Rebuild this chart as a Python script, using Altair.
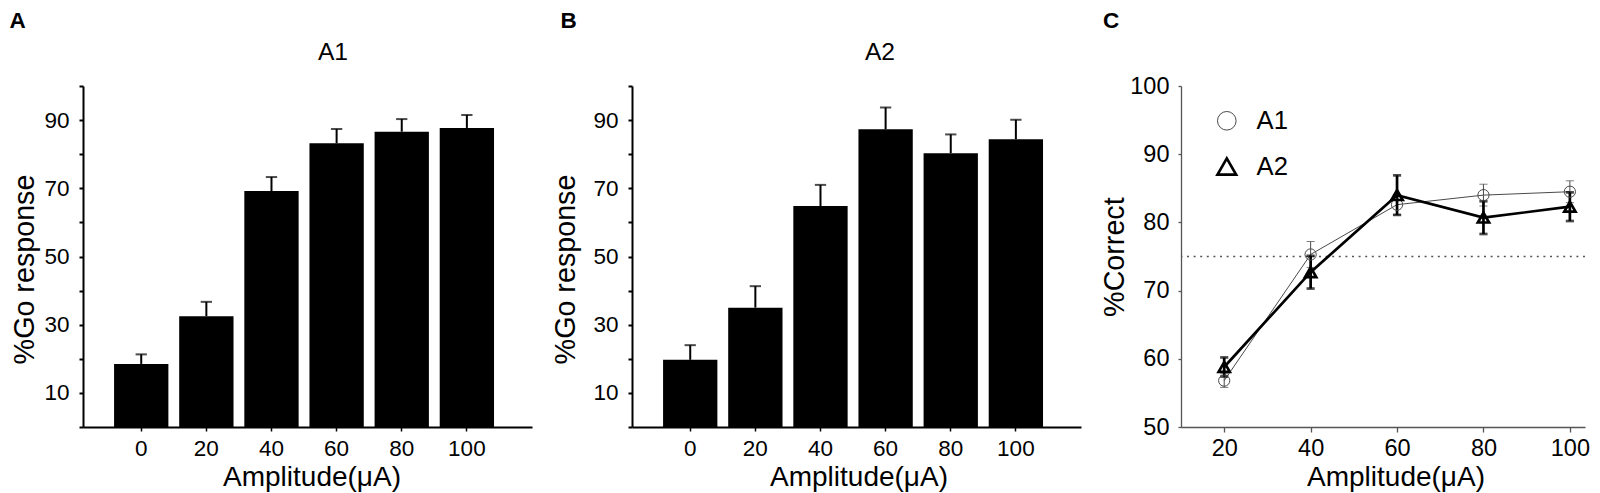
import altair as alt
import pandas as pd

FONT = "Liberation Sans"

# ---------------- data ----------------
amps = ["0", "20", "40", "60", "80", "100"]
a1_go_mean = [18.5, 32.5, 69.2, 83.2, 86.6, 87.7]
a1_go_sem = [2.8, 4.2, 4.1, 4.2, 3.7, 3.8]
a2_go_mean = [19.7, 35.0, 64.8, 87.3, 80.3, 84.4]
a2_go_sem = [4.3, 6.3, 6.2, 6.4, 5.5, 5.7]

series = ["A1", "A2"]
c_amps = [20, 40, 60, 80, 100]
a1_cor_mean = [56.8, 75.3, 82.6, 84.0, 84.5]
a1_cor_sem = [1.0, 1.9, 1.5, 1.6, 1.6]
a2_cor_mean = [58.8, 72.7, 84.0, 80.7, 82.3]
a2_cor_sem = [1.4, 2.4, 2.9, 2.4, 2.1]
chance = [75]
x_title = "Amplitude(μA)"

H = 341
XTITLE_Y = 59
WA, WB, WC, GAP = 449, 449, 404, 100
LETTER_Y = -76


def label_layer(text, x, y, size, weight="normal", align="center", baseline="alphabetic"):
    return alt.Chart(alt.Data(values=[{"t": text}])).mark_text(
        font=FONT, fontSize=size, fontWeight=weight, align=align, baseline=baseline, color="black"
    ).encode(text="t:N", x=alt.value(x), y=alt.value(y))


def bar_panel(means, sems, letter, name, width, letter_x, name_x, xtitle_x, ytitle_x):
    df = pd.DataFrame({"amp": amps, "mean": means, "sem": sems})
    df["upper"] = df["mean"] + df["sem"]
    xscale = alt.Scale(paddingInner=0.166, paddingOuter=0.53, align=0.45)
    xaxis = alt.Axis(
        title=None, labelAngle=0, labelFontSize=22.5, labelColor="black",
        labelPadding=6, tickSize=4, tickWidth=1.5, tickColor="black",
        domainColor="black", domainWidth=2,
    )
    yaxis = alt.Axis(
        title="%Go response", values=list(range(0, 101, 10)),
        labelExpr="indexof([10, 30, 50, 70, 90], datum.value) >= 0 ? datum.label : ''",
        labelOverlap=False,
        labelFontSize=22.5, labelColor="black", labelPadding=10,
        tickSize=4, tickWidth=2, tickColor="black",
        domainColor="black", domainWidth=2, titleFontSize=28.7,
        titleFontWeight="normal", titleColor="black", titleAngle=270,
        titleBaseline="alphabetic", titleAlign="center",
        titleX=ytitle_x, titleY=183,
    )
    yscale = alt.Scale(domain=[0, 100], nice=False, zero=True)
    base = alt.Chart(df)
    xenc = alt.X("amp:N", sort=amps, scale=xscale, axis=xaxis)
    bars = base.mark_bar(color="black").encode(
        x=xenc, y=alt.Y("mean:Q", scale=yscale, axis=yaxis),
    )
    err = base.mark_rule(color="black", strokeWidth=2).encode(
        x=xenc, y=alt.Y("mean:Q", scale=yscale, axis=yaxis), y2="upper:Q"
    )
    caps = base.mark_tick(color="black", thickness=2, size=11.3).encode(
        x=xenc, y=alt.Y("upper:Q", scale=yscale, axis=yaxis)
    )
    return alt.layer(
        bars, err, caps,
        label_layer(letter, letter_x, LETTER_Y, 22.5, "bold", "left", "top"),
        label_layer(name, name_x, -25.6, 24.6),
        label_layer(x_title, xtitle_x, H + XTITLE_Y, 28),
    ).properties(width=width, height=H)


panel_a = bar_panel(a1_go_mean, a1_go_sem, "A", "A1", WA, -73.4, 250, 229, -50)
panel_b = bar_panel(a2_go_mean, a2_go_sem, "B", "A2", WB, -71.4, 248, 227, -57.5)

# ---------------- panel C ----------------
rows = []
for s, m, e in ((series[0], a1_cor_mean, a1_cor_sem), (series[1], a2_cor_mean, a2_cor_sem)):
    for a, mv, ev in zip(c_amps, m, e):
        rows.append({"series": s, "amp": a, "mean": mv, "lo": mv - ev, "hi": mv + ev})
dfc = pd.DataFrame(rows)

styles = {"A1": ("#4a4a4a", 1.0), "A2": ("#000000", 2.7)}
color_scale = alt.Scale(domain=series, range=[styles[s][0] for s in series])
sw_scale = alt.Scale(domain=series, range=[styles[s][1] for s in series])
shape_scale = alt.Scale(domain=series, range=["circle", "triangle-up"])

cx_axis = alt.Axis(
    title=None, values=c_amps, labelFontSize=23.5, labelColor="black",
    labelPadding=4, tickSize=5, tickWidth=1.3, tickColor="#555555",
    domainColor="#555555", domainWidth=1.3,
)
cy_axis = alt.Axis(
    title="%Correct", values=list(range(50, 101, 10)), labelFontSize=23.5,
    labelColor="black", labelPadding=9, tickSize=3, tickWidth=1.3,
    tickColor="#555555", domainColor="#555555", domainWidth=1.3,
    titleFontSize=28.7, titleFontWeight="normal", titleColor="black",
    titleAngle=270, titleBaseline="alphabetic", titleAlign="center",
    titleX=-58, titleY=170.6, labelOverlap=False,
)
cxs = alt.Scale(domain=[10, 103.5], nice=False, zero=False)
cys = alt.Scale(domain=[50, 100], nice=False, zero=False)
cx = alt.X("amp:Q", scale=cxs, axis=cx_axis)
cy = alt.Y("mean:Q", scale=cys, axis=cy_axis)

C_OFFSET = WA + GAP + WB + GAP
leg = alt.Legend(
    title=None, orient="none", legendX=C_OFFSET + 33, legendY=22, labelFontSize=25.6,
    labelFont=FONT, labelColor="black", symbolSize=346, labelOffset=17,
    rowPadding=17.7, padding=0,
)

basec = alt.Chart(dfc)
chance_rule = alt.Chart(pd.DataFrame({"mean": chance})).mark_rule(
    color="#555555", strokeDash=[2, 4.6], strokeWidth=1.5
).encode(y=cy)

c_layers = [chance_rule]
for s in series:
    col, sw = styles[s]
    sub = basec.transform_filter(alt.datum.series == s)
    c_layers.append(sub.mark_line(color=col, strokeWidth=sw).encode(x=cx, y=cy))
    c_layers.append(
        sub.mark_rule(color=col, strokeWidth=sw).encode(
            x=cx, y=alt.Y("lo:Q", scale=cys, axis=cy_axis), y2="hi:Q"
        )
    )
    for fld in ("lo", "hi"):
        c_layers.append(
            sub.mark_tick(orient="horizontal", size=8.2, thickness=sw, color=col).encode(
                x=cx, y=alt.Y(f"{fld}:Q", scale=cys, axis=cy_axis)
            )
        )

points = basec.mark_point(filled=False, opacity=1, size=126).encode(
    x=cx, y=cy,
    shape=alt.Shape("series:N", scale=shape_scale, legend=leg),
    color=alt.Color("series:N", scale=color_scale, legend=leg),
    strokeWidth=alt.StrokeWidth("series:N", scale=sw_scale, legend=leg),
)

panel_c = alt.layer(
    *c_layers, points,
    label_layer("C", -78, LETTER_Y, 22.5, "bold", "left", "top"),
    label_layer(x_title, 215, H + XTITLE_Y, 28),
).properties(width=WC, height=H)

chart = alt.hconcat(panel_a, panel_b, panel_c, spacing=GAP, bounds="flush").properties(
    padding={"left": 1, "top": 2, "right": 0, "bottom": 0},
).configure(font=FONT).configure_view(stroke=None).configure_axis(
    grid=False, labelFont=FONT, titleFont=FONT
)

chart.save("out.html", embed_options={"renderer": "svg", "actions": False})
